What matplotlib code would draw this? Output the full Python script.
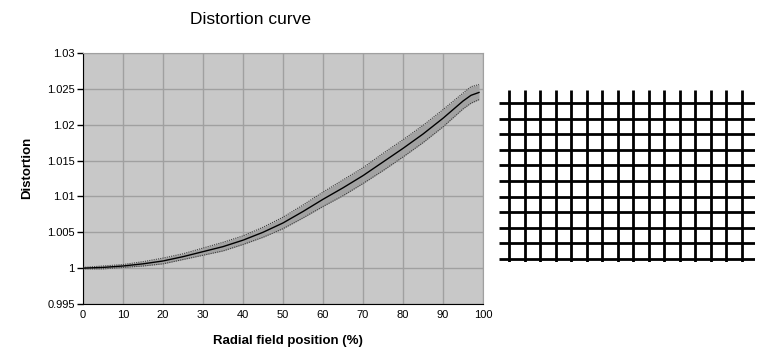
import matplotlib
matplotlib.use("Agg")
import matplotlib.pyplot as plt
import numpy as np

plt.rcParams['font.family'] = ['Liberation Sans', 'DejaVu Sans']

# Distortion curve data
radial_pos = [0, 5, 10, 15, 20, 25, 30, 35, 40, 45, 50, 55, 60, 65, 70, 75, 80, 85, 90, 95, 97, 99]
distortion = [1.0000, 1.0001, 1.0003, 1.0006, 1.0010, 1.0016, 1.0023, 1.0030, 1.0039, 1.0050,
              1.0063, 1.0079, 1.0096, 1.0112, 1.0129, 1.0148, 1.0167, 1.0187, 1.0209, 1.0233,
              1.0241, 1.0245]
band_upper = [1.0001, 1.0003, 1.0005, 1.0009, 1.0014, 1.0020, 1.0028, 1.0036, 1.0045, 1.0057,
              1.0071, 1.0088, 1.0106, 1.0123, 1.0140, 1.0160, 1.0179, 1.0199, 1.0221, 1.0244,
              1.0253, 1.0256]
band_lower = [0.9999, 0.9999, 1.0001, 1.0003, 1.0006, 1.0012, 1.0018, 1.0024, 1.0033, 1.0043,
              1.0055, 1.0070, 1.0086, 1.0101, 1.0118, 1.0136, 1.0155, 1.0175, 1.0197, 1.0222,
              1.0230, 1.0235]
x_ticks = [0, 10, 20, 30, 40, 50, 60, 70, 80, 90, 100]
y_ticks = [0.995, 1.0, 1.005, 1.01, 1.015, 1.02, 1.025, 1.03]
y_tick_labels = ["0.995", "1", "1.005", "1.01", "1.015", "1.02", "1.025", "1.03"]

# Illustration grid (column / row indices)
grid_cols = list(range(16))
grid_rows = list(range(11))

fig = plt.figure(figsize=(7.68, 3.59), dpi=100)

ax = fig.add_axes([83/768, 1-304/359, 400/768, 251/359])
ax.set_facecolor('#C8C8C8')
ax.fill_between(radial_pos, band_lower, band_upper, color='#A2A2A2', zorder=2, linewidth=0)
ax.plot(radial_pos, band_upper, color='#404040', lw=0.8, ls=(0, (1, 1)), zorder=3)
ax.plot(radial_pos, band_lower, color='#404040', lw=0.8, ls=(0, (1, 1)), zorder=3)
ax.plot(radial_pos, distortion, color='black', lw=1.0, zorder=4)

ax.set_xlim(0, 100)
ax.set_ylim(0.995, 1.03)
ax.set_xticks(x_ticks)
ax.set_yticks(y_ticks)
ax.set_yticklabels(y_tick_labels)
ax.grid(True, color='#A0A0A0', lw=1.0, zorder=1)
ax.set_axisbelow(True)
for s in ['top', 'right']:
    ax.spines[s].set_color('#A0A0A0')
for s in ['left', 'bottom']:
    ax.spines[s].set_color('black')
ax.tick_params(axis='y', length=4, width=1, labelsize=8, pad=2, colors='black')
ax.tick_params(axis='x', length=0, labelsize=8, pad=4)
fig.text(287.5/768, 1-340.7/359, 'Radial field position (%)', fontsize=9.5,
         fontweight='bold', ha='center', va='center')
fig.text(26.7/768, 1-167.5/359, 'Distortion', fontsize=9.5, fontweight='bold',
         ha='center', va='center', rotation=90)
fig.text(251/768, 1-19/359, 'Distortion curve', fontsize=12.5, ha='center', va='center')

# Right-hand grid illustration
gx = fig.add_axes([499/768, 1-262/359, 256/768, 172/359])
x_lo, x_hi = -0.645, 15.86
y_lo, y_hi = -0.83, 10.2
for c in grid_cols:
    gx.plot([c, c], [y_lo, y_hi], color='black', lw=2.0, solid_capstyle='butt')
for r in grid_rows:
    gx.plot([x_lo, x_hi], [r, r], color='black', lw=2.0, solid_capstyle='butt')
gx.set_xlim(x_lo, x_hi)
gx.set_ylim(y_hi, y_lo)
gx.axis('off')

fig.savefig('out.png', dpi=100)
